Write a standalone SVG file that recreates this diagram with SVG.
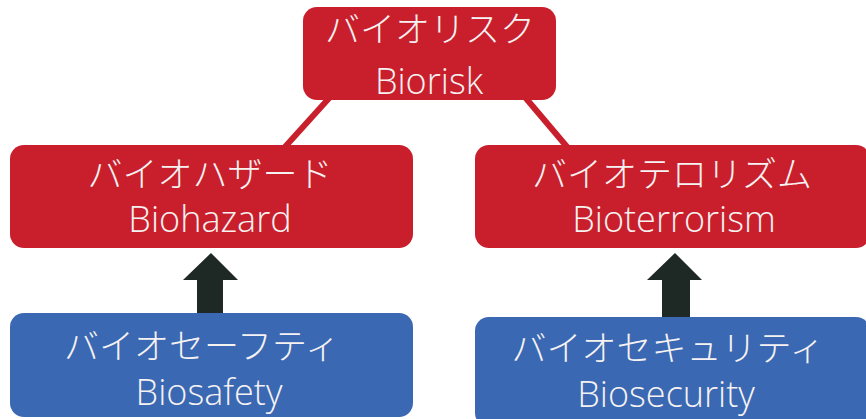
<svg xmlns="http://www.w3.org/2000/svg" width="866" height="419" viewBox="0 0 866 419">
<style>
.red{fill:#c91f2c}
.blue{fill:#3a68b2}
.jp{font-family:"Noto Sans CJK JP","Noto Sans",sans-serif;font-size:35px;fill:#f6f2f2;text-anchor:middle;font-weight:300}
.en{font-family:"Open Sans","Liberation Sans",sans-serif;font-size:36px;fill:#f6f2f2;text-anchor:middle;font-weight:300}
.link{stroke:#c91f2c;stroke-width:6;fill:none}
.arrow{fill:#1e2925}
</style>
<rect width="866" height="419" fill="#ffffff"/>
<g id="connectors">
<line class="link" x1="331" y1="96" x2="284" y2="148"/>
<line class="link" x1="524" y1="96" x2="568" y2="148"/>
<polygon class="arrow" points="211,253 238,280 223,280 223,313 197,313 197,280 183,280"/>
<polygon class="arrow" points="675,253 702,280 690,280 690,318 662,318 662,280 647,280"/>
</g>
<g id="biorisk">
<rect class="red" x="303" y="7" width="253" height="93" rx="14"/>
<text class="jp" x="430" y="42">バイオリスク</text>
<text class="en" x="429" y="94">Biorisk</text>
</g>
<g id="biohazard">
<rect class="red" x="10" y="145" width="403" height="103" rx="14"/>
<text class="jp" x="210" y="187">バイオハザード</text>
<text class="en" x="210" y="232">Biohazard</text>
</g>
<g id="bioterrorism">
<rect class="red" x="475" y="145" width="395" height="103" rx="14"/>
<text class="jp" x="672" y="187">バイオテロリズム</text>
<text class="en" x="674" y="232">Bioterrorism</text>
</g>
<g id="biosafety">
<rect class="blue" x="10" y="313" width="403" height="104" rx="14"/>
<text class="jp" x="202" y="359">バイオセーフティ</text>
<text class="en" x="209" y="405">Biosafety</text>
</g>
<g id="biosecurity">
<rect class="blue" x="475" y="317" width="395" height="110" rx="14"/>
<text class="jp" x="668" y="361">バイオセキュリティ</text>
<text class="en" x="666" y="407">Biosecurity</text>
</g>
</svg>
